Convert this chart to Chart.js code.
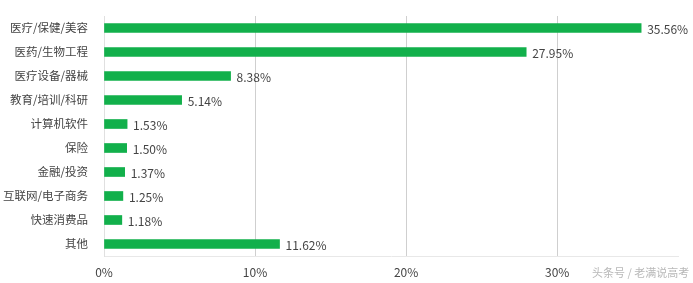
<!DOCTYPE html>
<html>
<head>
<meta charset="utf-8">
<script src="https://cdn.jsdelivr.net/npm/chart.js@4"></script>
<style>
  html, body { margin: 0; padding: 0; background: #fff; }
  #wrap { position: relative; width: 693px; height: 283px; }
  #mark { position: absolute; left: 592px; top: 264px; font: 11px "Noto Sans CJK SC", sans-serif; color: #b8b8b8; }
</style>
</head>
<body>
<div id="wrap">
  <canvas id="chart" width="693" height="283"></canvas>
  <div id="mark">头条号 / 老满说高考</div>
</div>
<script>
const categories = ['医疗/保健/美容', '医药/生物工程', '医疗设备/器械', '教育/培训/科研', '计算机软件',
                    '保险', '金融/投资', '互联网/电子商务', '快速消费品', '其他'];
const shares = [35.56, 27.95, 8.38, 5.14, 1.53, 1.50, 1.37, 1.25, 1.18, 11.62];
const tickValues = [0, 10, 20, 30];

const FONT = '"Noto Sans CJK SC", "Noto Sans", sans-serif';

// подписи значений справа от полос
const valueLabels = {
    id: 'valueLabels',
    afterDatasetsDraw(chart) {
        const ctx = chart.ctx;
        const meta = chart.getDatasetMeta(0);
        ctx.save();
        ctx.font = '12px ' + FONT;
        ctx.fillStyle = '#444';
        ctx.textBaseline = 'middle';
        ctx.textAlign = 'left';
        meta.data.forEach((bar, i) => {
            ctx.fillText(shares[i].toFixed(2) + '%', bar.x + 6, bar.y + 1);
        });
        ctx.restore();
    }
};

new Chart(document.getElementById('chart'), {
    type: 'bar',
    data: {
        labels: categories,
        datasets: [{
            data: shares,
            backgroundColor: '#12b04b',
            barThickness: 9
        }]
    },
    options: {
        indexAxis: 'y',
        responsive: false,
        animation: false,
        layout: { padding: { top: 16, right: 15, left: 0, bottom: 0 } },
        scales: {
            x: {
                min: 0,
                max: 38,
                afterBuildTicks(scale) {
                    scale.ticks = tickValues.map(v => ({ value: v }));
                },
                afterFit(scale) { scale.height = 27; },
                grid: { color: '#cfcfcf', drawTicks: false },
                border: { color: '#e8e8e8' },
                ticks: {
                    padding: 9,
                    color: '#444',
                    font: { family: FONT, size: 12 },
                    callback: v => v + '%'
                }
            },
            y: {
                afterFit(scale) { scale.width = 104; },
                grid: { display: false },
                border: { color: '#e0e0e0' },
                ticks: {
                    padding: 8,
                    color: '#444',
                    font: { family: FONT, size: 11.5 }
                }
            }
        },
        plugins: {
            legend: { display: false },
            tooltip: { enabled: false }
        }
    },
    plugins: [valueLabels]
});
</script>
</body>
</html>
